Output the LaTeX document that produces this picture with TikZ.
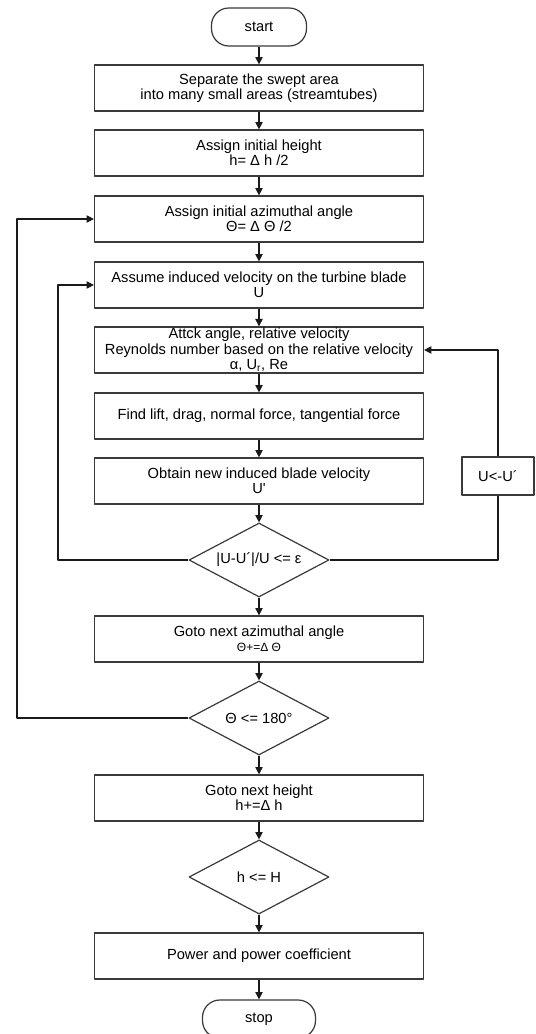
\documentclass[tikz,border=0pt]{standalone}
\usepackage{fontspec}
\setsansfont{Liberation Sans}
\usetikzlibrary{arrows.meta,shapes.geometric}
\definecolor{bg}{HTML}{FFFFFF}
\definecolor{edge}{HTML}{3A3A3A}
\definecolor{flowline}{HTML}{1A1A1A}

\begin{document}
\begin{tikzpicture}[x=0.75pt,y=-0.75pt,line join=round,
  box/.style={draw=edge,line width=0.9pt,fill=bg,minimum width=246.75pt,minimum height=34.5pt,
    inner sep=1pt,align=center,font=\sffamily\fontsize{11}{11.5}\selectfont},
  term/.style={box,rounded corners=13pt,minimum width=71.25pt,minimum height=28.5pt},
  decision/.style={box,diamond,aspect=2,inner sep=0pt,minimum width=105pt,minimum height=55.5pt},
  flow/.style={-{Triangle[length=5.5pt,width=5.5pt]},line width=0.8pt,flowline}]
  \fill[bg] (0,0) rectangle (535,1034);
  \useasboundingbox (0,0) rectangle (535,1034);

  % ---- main column (centre x = 259) ----
  \node[term] (start) at (259,27) {start};
  \node[box] (sep) at (259,88) {Separate the swept area\\into many small areas (streamtubes)};
  \node[box] (inith) at (259,153) {Assign initial height\\h= Δ h /2};
  \node[box] (initang) at (259,219) {Assign initial azimuthal angle\\Θ= Δ Θ /2};
  \node[box] (assume) at (259,285) {Assume induced velocity on the turbine blade\\U};
  \node[box] (attack) at (259,350) {Attck angle, relative velocity\\Reynolds number based on the relative velocity\\α, U\textsubscript{r}, Re};
  \node[box] (forces) at (259,416) {Find lift, drag, normal force, tangential force};
  \node[box] (newu) at (259,481) {Obtain new induced blade velocity\\U\textquotesingle};
  \node[decision] (conv) at (259,560) {|U-U´|/U <= ε};
  \node[box] (nextang) at (259,639) {Goto next azimuthal angle\\{\small Θ+=Δ Θ}};
  \node[decision] (angchk) at (259,718) {Θ <= 180°};
  \node[box] (nexth) at (259,798) {Goto next height\\h+=Δ h};
  \node[decision] (hchk) at (259,877) {h <= H};
  \node[box] (power) at (259,956) {Power and power coefficient};
  \node[term,minimum width=84.75pt] (stop) at (259,1019) {stop};

  % update box on the right
  \node[box,minimum width=54pt,minimum height=28.5pt] (upd) at (498,476) {U<-U´};

  % ---- straight flow ----
  \foreach \a/\b in {start/sep,sep/inith,inith/initang,initang/assume,assume/attack,
    attack/forces,forces/newu,newu/conv,conv/nextang,nextang/angchk,angchk/nexth,
    nexth/hchk,hchk/power,power/stop}
    \draw[flow] (\a) -- (\b);

  % ---- loops ----
  \coordinate (outer) at (17,718);
  \coordinate (inner) at (58,560);
  \coordinate (rside) at (498,560);
  \draw[flow] (angchk.west) -- (outer) |- (initang.west);
  \draw[flow] (conv.west) -- (inner) |- (assume.west);
  \draw[flowline,line width=0.8pt] (conv.east) -- (rside) -- (upd.south);
  \draw[flow] (upd.north) |- (attack.east);
\end{tikzpicture}
\end{document}
